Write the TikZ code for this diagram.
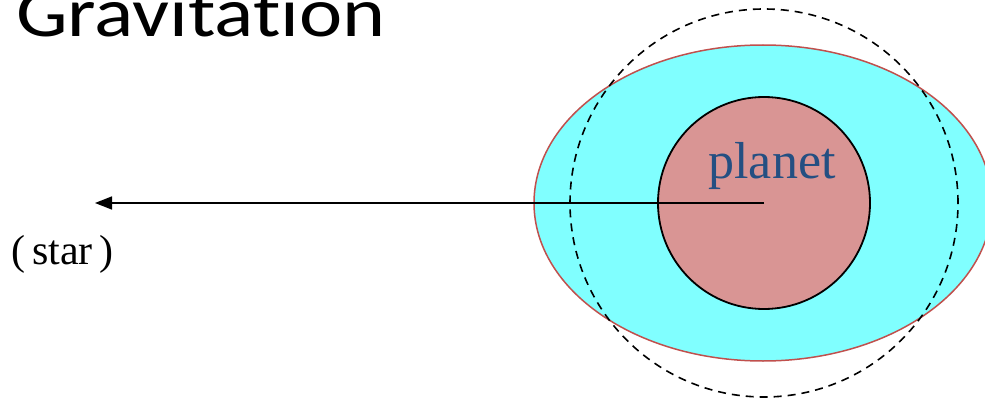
\documentclass[tikz,border=0pt]{standalone}
\usepackage{fontspec}
\setmainfont{Liberation Serif}
\newfontfamily\titlefont[Ligatures=NoCommon]{Carlito}
\usetikzlibrary{shapes.geometric,arrows.meta}
\definecolor{cyanfill}{RGB}{128,255,255}
\definecolor{ellline}{RGB}{192,80,77}
\definecolor{planetfill}{RGB}{217,149,148}
\definecolor{planettext}{RGB}{36,79,130}
\tikzset{
  shell/.style={ellipse, draw=ellline, line width=1.5pt, fill=cyanfill, minimum width=458pt, minimum height=316pt, inner sep=0pt},
  core/.style={circle, draw=black, line width=1.8pt, fill=planetfill, minimum size=212pt, inner sep=0pt},
  orbit/.style={circle, draw=black, line width=1.6pt, dash pattern=on 8pt off 6pt, minimum size=388pt, inner sep=0pt},
  pull/.style={line width=1.6pt, -{Triangle[length=17pt,width=13pt]}},
}
\begin{document}
\begin{tikzpicture}[x=1pt,y=-1pt]
\useasboundingbox (0,0) rectangle (985,401);
\clip (0,0) rectangle (985,401);
\node[anchor=base west, inner sep=0pt, font=\titlefont\fontsize{70}{74}\selectfont] (title) at (16,37) {\scalebox{1.17}[1]{Gravitation}};
\node[shell] (shell) at (763,203) {};
\node[core] (planet) at (764,203) {};
\node[orbit] (orbit) at (764,203) {};
\coordinate (star) at (95,203);
\draw[pull] (planet.center) -- (star);
\node[anchor=base, inner sep=0pt, text=planettext, font=\fontsize{52}{56}\selectfont] (label) at (772,178) {planet};
\node[anchor=base west, inner sep=0pt, font=\fontsize{42}{44}\selectfont] (starlabel) at (11,264) {(\hspace{7pt}star\hspace{7pt})};
\end{tikzpicture}
\end{document}
